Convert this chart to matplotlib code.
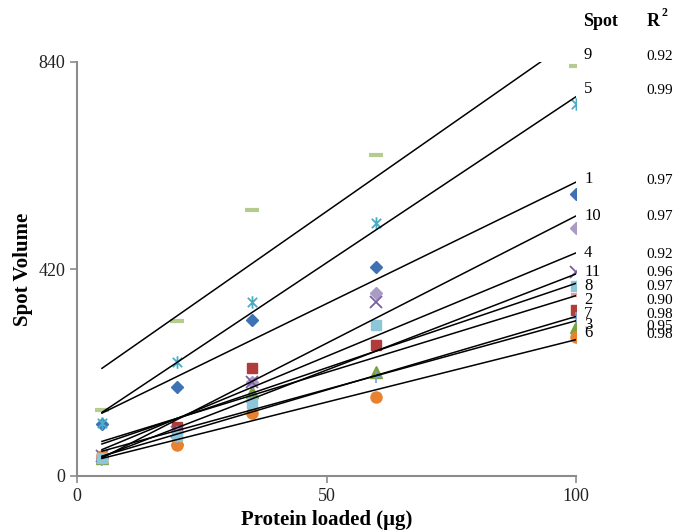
import numpy as np
import matplotlib
matplotlib.use("Agg")
from matplotlib import pyplot as plt
from matplotlib.path import Path

plt.rcParams['font.family'] = ['Liberation Serif', 'DejaVu Serif']

# protein loaded (ug)
protein = [5, 20, 35, 60, 100]

# spot volumes
spot1 = [106, 181, 317, 424, 572]
spot2 = [37, 99, 219, 266, 337]
spot3 = [37, 75, 170, 211, 302]
spot4 = [40, 90, 190, 353, 414]
spot5 = [108, 231, 353, 513, 755]
spot6 = [40, 63, 128, 160, 282]
spot7 = [32, 80, 150, 201, 320]
spot8 = [37, 99, 219, 272, 367]
spot9 = [134, 314, 540, 651, 832]
spot10 = [37, 90, 190, 371, 503]
spot11 = [37, 81, 148, 306, 385]

# right hand key: spot number and R^2, top to bottom
key_spots = ['9', '5', '1', '10', '4', '11', '8', '2', '7', '3', '6']
key_r2 = ['0.92', '0.99', '0.97', '0.97', '0.92', '0.96', '0.97', '0.90', '0.98', '0.95', '0.98']

star = Path([(0, -1), (0, 1), (-0.75, -0.75), (0.75, 0.75), (-0.75, 0.75), (0.75, -0.75)],
            [Path.MOVETO, Path.LINETO, Path.MOVETO, Path.LINETO, Path.MOVETO, Path.LINETO])

# (values, style, drawing order)
series = [
    (spot1, dict(marker='D', color='#3F72B4', ms=6.5), 3.1),
    (spot2, dict(marker='s', color='#B03C3C', ms=7.5), 3.2),
    (spot3, dict(marker='^', color='#7BA33D', ms=8), 3.3),
    (spot4, dict(marker='x', color='#7B5FA6', ms=8, mew=1.3), 3.4),
    (spot5, dict(marker=star, color='#4AACC6', ms=9, mew=1.3), 3.5),
    (spot6, dict(marker='o', color='#E8822F', ms=8), 3.6),
    (spot7, dict(marker='+', color='#7C9FD4', ms=9, mew=1.2), 3.7),
    (spot8, dict(marker='_', color='#E39C9B', ms=7, mew=3), 3.15),
    (spot9, dict(marker='_', color='#B5CC8E', ms=10, mew=3), 3.9),
    (spot10, dict(marker='D', color='#A99BC4', ms=6.5), 3.35),
    (spot11, dict(marker='s', color='#8EC6D9', ms=7.5), 3.95),
]

fig = plt.figure(figsize=(6.82, 5.31), dpi=100)
ax = fig.add_axes([77 / 682, 55 / 531, 499 / 682, 414 / 531])

xs = np.array(protein, dtype=float)
for vals, st, z in series:
    ax.plot(xs, vals, linestyle='none', markeredgecolor=st['color'], zorder=z, **st)
for vals, st, z in series:
    k, b = np.polyfit(xs, vals, 1)
    xx = np.array([xs.min(), xs.max()])
    ax.plot(xx, k * xx + b, color='black', lw=1.1, zorder=4)

ax.set_xlim(0, 100)
ax.set_ylim(0, 840)
ax.set_xticks([0, 50, 100])
ax.set_yticks([0, 420, 840])
ax.spines['top'].set_visible(False)
ax.spines['right'].set_visible(False)
for s in ['left', 'bottom']:
    ax.spines[s].set_color('#8C8C8C')
    ax.spines[s].set_linewidth(1.5)
ax.tick_params(colors='#8C8C8C', labelcolor='#222222', labelsize=13, length=5, width=1.2)
ax.set_xlabel('Protein loaded (\u03bcg)', fontsize=15, fontweight='bold', labelpad=4)
ax.set_ylabel('Spot Volume', fontsize=15, fontweight='bold', labelpad=4)

# key at the right
fig.text(583 / 682, 1 - 21 / 531, 'Spot', fontsize=13, fontweight='bold', va='center', ha='left')
fig.text(647 / 682, 1 - 21 / 531, 'R', fontsize=13, fontweight='bold', va='center', ha='left')
fig.text(661 / 682, 1 - 13 / 531, '2', fontsize=8.5, fontweight='bold', va='center', ha='left')
key_y = [55, 89, 179, 216, 253, 272, 286, 300, 314, 325, 333]
for name, r2, py in zip(key_spots, key_r2, key_y):
    fig.text(584 / 682, 1 - py / 531, name, fontsize=12, va='center', ha='left')
    fig.text(646 / 682, 1 - (py + 1) / 531, r2, fontsize=11, va='center', ha='left')

fig.savefig('out.png', dpi=100)
